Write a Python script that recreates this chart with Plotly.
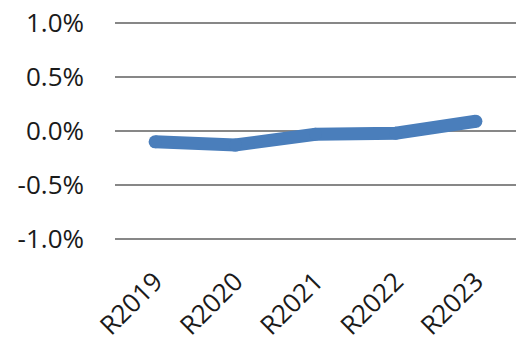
import plotly.graph_objects as go

categories = ["R2019", "R2020", "R2021", "R2022", "R2023"]
values = [-0.0010, -0.0013, -0.0003, -0.0002, 0.0009]
y_ticks = [-0.01, -0.005, 0.0, 0.005, 0.01]
y_tick_labels = ["-1.0%", "-0.5%", "0.0%", "0.5%", "1.0%"]

fig = go.Figure()
fig.add_trace(go.Scatter(
    x=categories, y=values, mode="lines+markers",
    line=dict(color="#4A7EBB", width=13),
    marker=dict(color="#4A7EBB", size=13, line=dict(width=0)),
    hoverinfo="skip",
))

font = dict(family="Open Sans, Noto Sans, sans-serif", size=26, color="#1a1a1a")

fig.update_layout(
    width=516, height=342,
    margin=dict(l=115, r=0, t=22, b=102),
    paper_bgcolor="white", plot_bgcolor="white",
    showlegend=False,
    font=font,
    xaxis=dict(
        type="category", range=[-0.5, 4.5],
        showgrid=False, zeroline=False,
        showline=False,
        tickangle=-45, ticks="", ticklabelstandoff=20,
        tickfont=font,
    ),
    yaxis=dict(
        range=[-0.0101, 0.0101],
        tickvals=y_ticks, ticktext=y_tick_labels,
        showgrid=True, gridcolor="#878787", gridwidth=2,
        zeroline=False, showline=False,
        ticks="", ticklabelstandoff=30,
        tickfont=font,
    ),
)

fig.write_html("out.html")
